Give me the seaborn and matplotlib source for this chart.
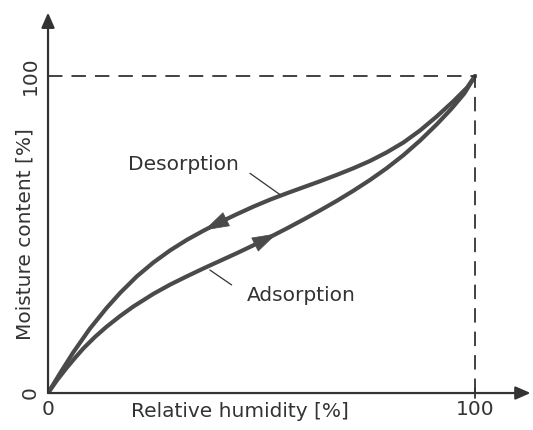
import numpy as np
import pandas as pd
import matplotlib
matplotlib.use("Agg")
import matplotlib.pyplot as plt
import seaborn as sns

# DATA (both axes in %)
rh_desorption = [0, 2.8, 5.9, 9.8, 13.7, 16.9, 20.8, 24.7, 28.6, 32.5, 36.4, 40.3, 44.2,
                 48.1, 52.0, 55.9, 59.8, 63.7, 67.6, 71.5, 75.4, 79.3, 83.2, 87.1,
                 91.0, 94.9, 98.1, 100]
mc_desorption = [0, 6.2, 12.8, 20.3, 26.8, 31.6, 36.8, 41.2, 45.0, 48.3, 51.2, 53.9, 56.4,
                 58.8, 61.0, 63.0, 64.9, 66.8, 68.8, 70.9, 73.2, 75.9, 79.0, 82.8,
                 87.2, 92.0, 96.3, 100]

rh_adsorption = [0, 2.2, 4.4, 6.4, 8.3, 11.0, 13.7, 16.9, 20.0, 24.7, 28.6, 32.5, 36.4,
                 40.3, 44.2, 48.1, 52.0, 55.9, 59.8, 63.7, 67.6, 71.5, 75.4, 79.3,
                 83.2, 87.1, 91.0, 94.5, 97.5, 100]
mc_adsorption = [0, 4.2, 8.0, 11.2, 14.1, 17.7, 20.9, 24.3, 27.3, 31.3, 34.2, 36.8, 39.3,
                 41.7, 44.1, 46.6, 49.2, 51.9, 54.7, 57.6, 60.6, 63.8, 67.2, 70.9,
                 75.0, 79.6, 84.7, 89.7, 94.5, 100]

x_ticks = [0, 100]
y_ticks = [0, 100]
x_label = "Relative humidity [%]"
y_label = "Moisture content [%]"

# STYLE
sns.set_theme(style="white")
plt.rcParams["font.family"] = ["DejaVu Sans"]

INK = "#333333"
LINE = "#4a4a4a"
FS = 14.5

df = pd.concat([
    pd.DataFrame({"rh": rh_desorption, "mc": mc_desorption, "curve": "Desorption"}),
    pd.DataFrame({"rh": rh_adsorption, "mc": mc_adsorption, "curve": "Adsorption"}),
])

fig = plt.figure(figsize=(5.33, 4.30), dpi=100)
ax = fig.add_axes([0.0901, 0.086, 0.9053, 0.8847])
ax.set_xlim(0, 113)
ax.set_ylim(0, 120)

sns.lineplot(data=df, x="rh", y="mc", units="curve", estimator=None, sort=False,
             color=LINE, lw=3.0, ax=ax, legend=False,
             solid_joinstyle="round", solid_capstyle="round")

# axes drawn as arrows
for spine in ax.spines.values():
    spine.set_visible(False)
arrow = dict(arrowstyle="-|>,head_length=0.5,head_width=0.22", color=INK, lw=1.6,
             mutation_scale=18, shrinkA=0, shrinkB=0)
ax.annotate("", xy=(113, 0), xytext=(0, 0), arrowprops=arrow, annotation_clip=False)
ax.annotate("", xy=(0, 120), xytext=(0, 0), arrowprops=arrow, annotation_clip=False)

# dashed guides at 100 %
ax.plot([0, 100], [100, 100], ls=(0, (8, 5)), color=INK, lw=1.3)
ax.plot([100, 100], [0, 100], ls=(0, (8, 5)), color=INK, lw=1.3)
ax.plot([100, 100], [-1.6, 1.6], color=INK, lw=1.3, clip_on=False)


# direction arrows on the curves
def curve_arrow(xs, ys, x_base, x_tip):
    ax.annotate("", xy=(x_tip, np.interp(x_tip, xs, ys)),
                xytext=(x_base, np.interp(x_base, xs, ys)),
                arrowprops=dict(arrowstyle="-|>,head_length=0.8,head_width=0.25",
                                color=LINE, lw=0.5, mutation_scale=21,
                                shrinkA=0, shrinkB=0))


curve_arrow(rh_desorption, mc_desorption, 41.8, 36.6)
curve_arrow(rh_adsorption, mc_adsorption, 48.1, 53.6)

# labels with leader lines
ax.text(31.7, 70.2, "Desorption", fontsize=FS, color=INK, ha="center", va="baseline")
ax.plot([47.3, 54.3], [69.3, 62.6], color=INK, lw=0.9)
ax.text(59.2, 28.9, "Adsorption", fontsize=FS, color=INK, ha="center", va="baseline")
ax.plot([37.9, 43.0], [38.8, 34.1], color=INK, lw=0.9)

# ticks
ax.set_xticks(x_ticks)
ax.set_xticklabels([str(t) for t in x_ticks], fontsize=FS, color=INK)
ax.set_yticks(y_ticks)
ax.set_yticklabels([str(t) for t in y_ticks], fontsize=FS, color=INK,
                   rotation=90, va="center")
ax.tick_params(axis="both", length=0)
ax.tick_params(axis="x", pad=5)
ax.tick_params(axis="y", pad=6)

ax.set_xlabel(x_label, fontsize=FS, color=INK, va="baseline")
ax.set_ylabel(y_label, fontsize=FS, color=INK, va="center")
ax.xaxis.set_label_coords(0.398, -0.0623)
ax.yaxis.set_label_coords(-0.0487, 0.418)

fig.savefig("out.png", dpi=100)
